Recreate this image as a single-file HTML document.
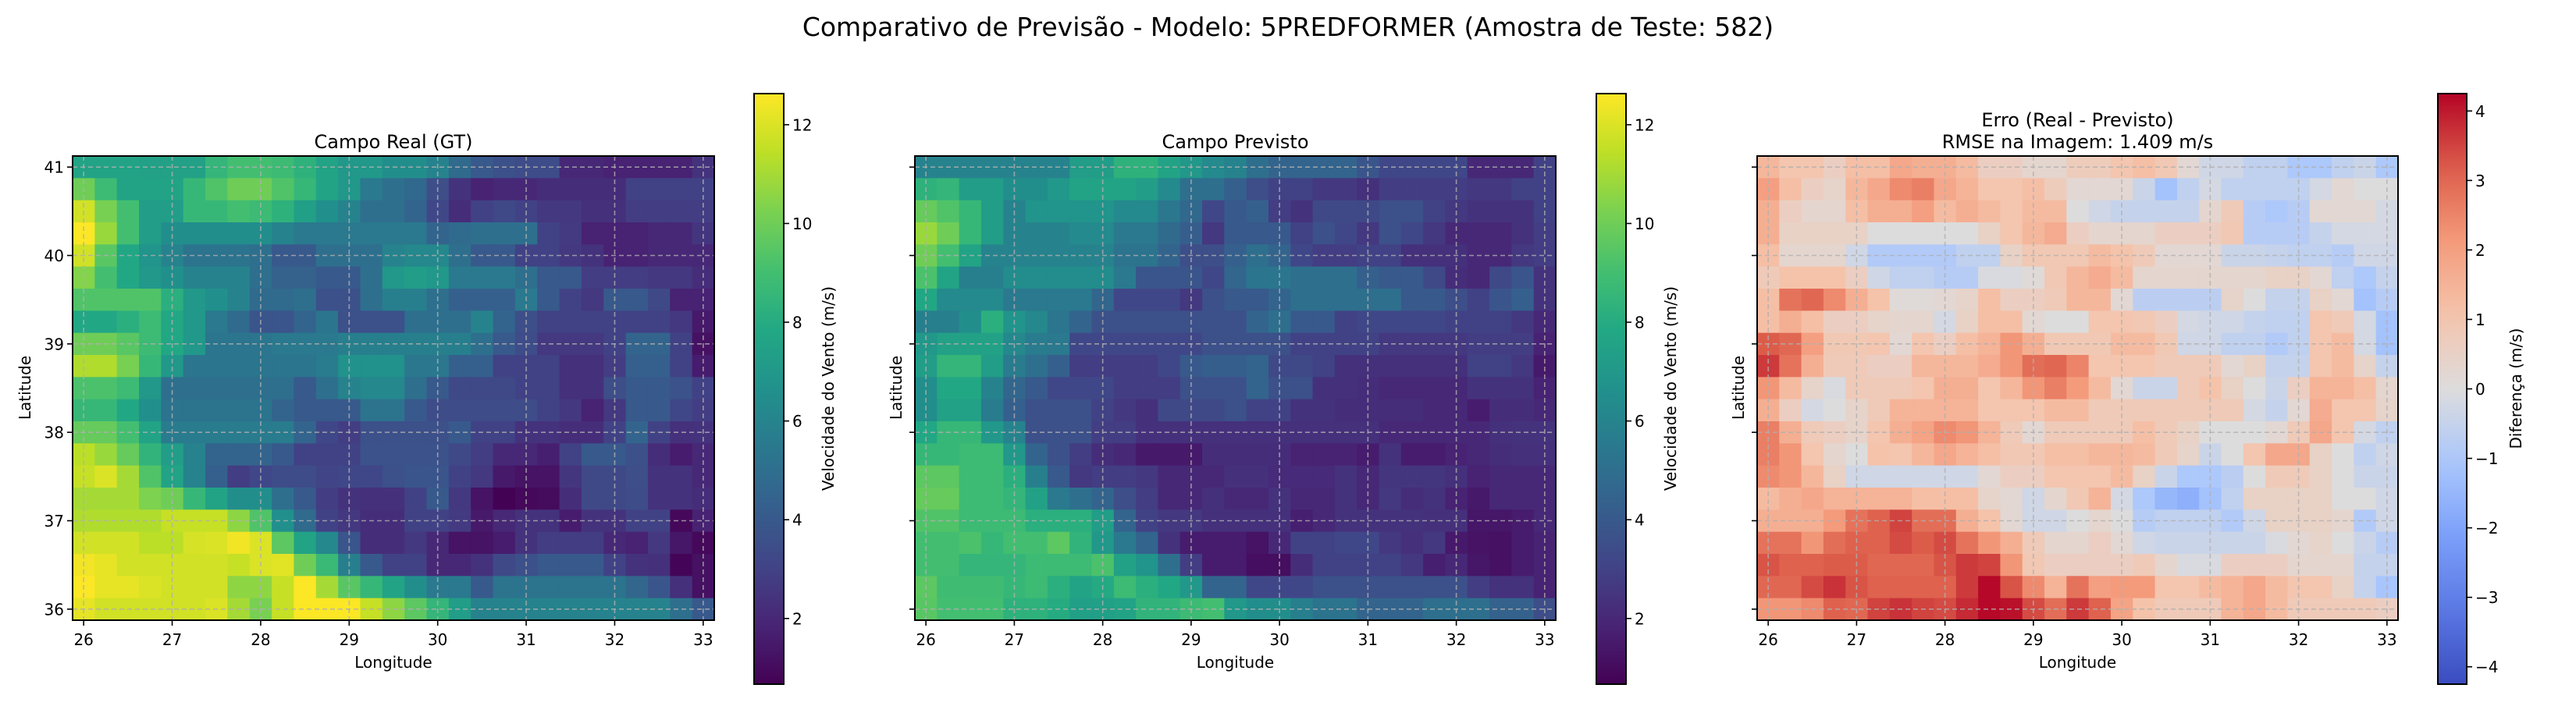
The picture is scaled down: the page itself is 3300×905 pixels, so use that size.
<!DOCTYPE html>
<html><head><meta charset="utf-8"><style>
html,body{margin:0;padding:0;background:#fff;}
svg text{font-family:"DejaVu Sans","Liberation Sans",sans-serif;fill:#000;}
</style></head><body>
<svg id="chart" xmlns="http://www.w3.org/2000/svg" width="3300" height="900" viewBox="0 0 3300 900">
<rect width="3300" height="900" fill="#fff"/>
<text x="1650" y="46" font-size="33" text-anchor="middle">Comparativo de Previsão - Modelo: 5PREDFORMER (Amostra de Teste: 582)</text>
<g id="root"></g>
</svg>
<script>
const lonTicks=[26,27,28,29,30,31,32,33];
const latTicks=[36,37,38,39,40,41];
const speedTicks=[2,4,6,8,10,12];
const diffTicks=[-4,-3,-2,-1,0,1,2,3,4];
const gtValues=[
[7.6,7.6,7.6,7.5,7.5,7.5,8.5,9,9,8.8,8.3,7.6,7,7,6.5,6.5,6,4.8,4,3.6,3.4,3.4,2,2,1.8,1.8,1.8,1.8,2.4],
[10,8.8,7.6,7.6,7.6,8.6,9.3,10,10,9.3,8.6,7.6,7,5.5,5,4.7,3.5,2.4,1.8,2,2,2.2,2.2,2.2,2.2,3,3,3,3],
[11.8,10.2,9,7.3,7.3,8.6,8.6,9,8.8,8.3,7.4,6.6,6,5,5,4.5,3.2,2.2,3,3.3,3,2.6,2.6,2.3,2.3,2.8,2.8,2.8,2.8],
[12.6,10.8,9,7.3,6.5,6.5,6.5,6.5,6.5,6,5.5,5.5,5.5,5.5,5.5,5.5,4.5,4.8,5,5,5,3,2.7,1.8,1.8,1.8,2,2,2.5],
[11.8,9.5,7.8,6.8,6,5.2,5.2,5.2,5,4,4,5,5,5,6,6.2,6.2,5,4,4,3,3,2.6,2.4,1.8,1.8,2,2,2],
[10.4,9,7.8,7,6.6,6,6,6,5,4.4,4.4,4,4,5,7,7.3,7,5.5,5.5,5.5,5,4,4,2.8,2.8,2.8,2.6,2.6,2.2],
[9.3,9.3,9.3,9.3,8.2,7,6.6,6,4.8,4.8,5,3.6,3.6,5,5.8,5.8,5,4.3,4.3,4.3,5.5,4,3,2.6,4,4,3.3,1.8,1.8],
[7.8,7.8,8.2,8.8,7.8,7,5.5,4.8,3.8,3.8,4.5,5.3,3.6,3.6,3.6,5,5,5,6,4.5,3.5,3,3,3,3,3,3,2.6,1.5],
[10,10,9.5,8.8,7.8,7,5.3,5.3,5.3,5.5,5.5,5.5,5.8,5.8,5.8,5.8,5.8,5.8,5,4,3.4,2.6,2.6,2.6,3,4.5,4.5,3,1.2],
[11.2,11.2,10.2,8.6,7,5.3,5.3,5.3,5.3,5.3,5.3,5.6,6.7,6.7,6.7,5.4,5.4,4.3,4.3,3,3,3,2.3,2.3,2.8,4.3,4.3,3,1.6],
[9.2,9.2,8.8,7,5,5,5,5,5,5,4,5,6,6.2,6.2,5,4,3.3,3.3,3.3,3,3,2.3,2.3,3.5,4,4,3.7,3],
[8.6,8.6,7.8,6.6,5.2,5.2,5.2,5.2,5.2,4.5,4,4,4,5.2,5.2,4,3.4,3.4,3.4,3.4,3.4,3,2.6,1.8,2.6,4,4,3.2,2.8],
[9.8,9.8,9,7.6,5.6,5.6,5.6,5.6,5.6,5.6,4.5,3.2,2.8,3.6,3.6,3.6,3.6,4,3,3,2.4,2.4,2.2,2.2,3,4.5,3,2.3,2.4],
[11.4,10.8,9.8,8.4,7.3,6,4.5,4.5,4.5,4,3,3,3,3.7,3.7,3.7,3.7,3.3,2.8,2,2,1.7,3,4,4,3.6,2.2,1.6,2],
[11.6,12,11,9.3,7.6,6,4.3,2.8,3.2,3.4,3.4,3.1,3.2,3.2,3.6,3.8,3.8,3,2.6,1.5,1.3,1.3,2.5,3.3,3.3,3.5,2.4,2.4,2],
[11,11,11,10.3,10,8.6,7.6,6.5,6.5,5,4,2.8,2.4,2.3,2.3,3,4,2.6,1.3,0.7,0.9,1,2.2,3.3,3.3,3.4,2.4,2.4,2.2],
[11.2,11.2,11.2,11.2,11.6,11.6,11.6,10.6,9.3,6.6,4.8,3,2.6,2.2,2.2,3,3,2.7,1.5,2,2.4,2.4,1.6,2.4,2.4,3,3,0.9,1.8],
[11.8,11.8,11.8,11.4,11.4,11.9,12,12.4,12,9.6,7.6,6.2,3.8,2.2,2.2,2.6,2,1.3,1.3,1.6,2.4,2.8,2.8,2.8,2,1.8,2.6,1.4,0.9],
[12.4,12.2,11.8,11.8,11.8,11.8,11.8,11.6,12,12.1,10,8.7,5.8,4,3,3,2,2,2.4,3.3,3.6,4,4,4,3,2.4,2.3,0.8,1.2],
[12.6,12.2,12.2,12,11.8,11.8,11.8,10.6,10.6,11.6,12.6,11,9.5,8.6,7.6,6.5,5.5,5.5,4,5.2,5.2,5.2,5.2,5.2,5.2,4.6,3.8,2.3,1.2],
[12.2,11.8,11.8,11.8,11.8,11.8,12,11,10.2,11.6,12.6,12.6,12.6,11.6,10.6,9.6,8.5,7.3,6,6,6,6,6,6,6,6,6,5,4]];
const predValues=[
[6,6,6,6,6,6,6,7.3,7.3,8.3,8.3,7.6,7,6.3,6,5,4.5,4.5,4.5,4.5,3.8,3.2,3.2,3.2,3.2,2,2,2,3],
[8.3,8.5,7.3,7.3,6.5,6.5,7,7.6,7.6,7.6,7.3,6.3,5,5,4.3,3.5,3,3,2.6,2.6,2.3,2.8,2.8,2.8,2.8,2.6,2.6,3,3],
[9.8,9.3,8.6,7.3,6,6.8,6.8,6.8,6.8,6.3,6.3,5.4,4.7,3.2,4,4.3,2.8,2.4,3.3,3.3,3.3,3.6,3.6,3,2.6,2.4,2.4,2.4,3],
[10.8,10,8.6,7.3,6,6,6,6.3,6.3,5.5,5.5,4.8,4.2,2.6,4,4,4,3,3.6,3.2,2.6,3.6,3.2,2.6,2,2,2,2.4,2.8],
[10,9,7.6,6,6,6,6,6,6,5.2,5.2,4.5,3.5,3.5,4.3,5,4.5,3.2,2.8,2.8,3,3,2.3,2.3,2.3,2,2,2.6,2.8],
[9.2,7.6,5.8,5.8,6.4,6.4,6.4,6.4,6.4,5.5,3.8,3.8,3.8,3.2,4.6,5.3,5.3,5,5,5,4.3,4,4,3.3,2.2,2,3.3,3.8,2.4],
[7.8,6.3,6.3,6.3,5.5,5.5,5.5,5.5,4.6,3.2,3.2,3.2,2.6,3.6,4,4,4.5,5,5,5,5,5,4,4,3.5,3,3.8,4.3,2.4],
[5.8,5.8,6.5,8.2,6.8,6.2,5.3,4.5,3.6,3.6,3.6,3.6,3.6,3.6,3.6,4.5,5,4,4,3,3.2,3.2,3.2,3.2,3,3,3,2.6,2],
[7,7.5,7.5,7.5,6.2,5.6,5.5,3.2,3.2,3.2,3.2,3.2,3.2,3.6,3.6,3.6,3.6,3,3,3,3,2.6,2.6,2.6,2.6,2.8,2.8,2.8,1.8],
[7.3,8.5,8.5,7.3,5.6,5,4.3,2.8,2.8,2.8,2.8,3.2,4,4.2,4.2,4.5,3.3,3.3,3,2.3,2.3,2.3,2.3,2.3,2.3,3,3,2.6,1.5],
[6.5,7.8,7.8,6,4.6,4,3.2,3.2,3.2,2.8,2.8,2.8,3.6,3.6,3.6,4.5,3.6,3.6,2.3,2.3,2.2,2,2,2,2,2.4,2.4,2.4,1.8],
[6.5,7.5,7.5,5.6,4.3,3.6,3.6,3.6,3,2.6,2.3,3.3,3.3,3.3,3.6,3,3,2.4,2.4,2.2,2.2,2.2,2.2,2,2,1.6,2.2,2.2,2],
[7.8,8.6,8.6,7,6,3.6,3.6,3.6,2.8,2.8,2.3,2.3,2.3,2.3,2.3,2.3,2.3,2.3,2.3,2.3,2.3,2,2,2,2,2,2.3,2.4,2.4],
[8.6,8.6,8.8,8.8,7,4.5,3.6,2.8,2.2,2,1.5,1.5,1.5,2.2,2.2,2.2,2.2,1.8,1.8,1.8,1.6,2.4,1.6,1.6,1.8,2,2.2,2.3,2.3],
[9.6,9.6,8.8,8.8,8.2,5.8,4,2.6,2.8,2.8,2.6,2,2,2,2.3,2.3,2.1,2.1,2.1,2.4,2,2.5,2.5,2.5,2.3,1.8,2,2,2],
[9.8,9.8,8.8,8.8,8.5,7.5,5.5,5,4.5,3.5,2.8,2,2,2.3,2,2,2.4,2,2,2.4,2,2.6,2.2,2.4,1.8,1.5,2,2,2],
[9.3,9.3,8.8,8.8,8.8,8.2,8.2,8.2,7.3,4.5,3,2.6,2.6,2.3,2.3,2.3,2.3,1.7,2,2.4,2.4,2.4,2.4,2.3,2.3,1.4,1.4,1.6,2],
[9,9,9.2,8.6,9,9,9.6,8.4,7,5.5,4.5,2.4,1.6,1.6,1.6,1.3,2,3,3,3.2,3.2,2.6,2.3,2.6,1.5,1.3,1.2,1.6,1.8],
[9,9,8.5,8.5,8.5,8.8,8.8,8.8,9.2,7.5,6.8,5,2.8,1.6,1.6,1.1,1.1,2.2,3,3,3,3,2.6,1.7,2,1.4,1.2,1.6,1.8],
[9.6,8.9,8.9,8.9,8.6,8.8,8.2,7.6,7.9,8.8,8.2,7.8,7,4.5,4.5,3.2,3.2,3.2,3.6,3.6,3.6,3.6,3.6,3.6,3.6,2.8,2.4,2.4,1.8],
[9.5,9,9,9,8.3,8.3,8,7.4,7.4,7.6,8.4,8.4,8.8,9,7,6.5,6.5,5.8,5.2,5.2,4.5,4.5,4.5,5,5,5,4.4,4.4,3.5]];
const errValues=[
[1.4,1,1,0.6,1.2,1.2,1.8,1.6,1.6,1.3,0.6,0.6,0.3,0.3,0.7,0.7,1,1.2,0.9,0.2,-0.3,-0.3,-0.6,-0.6,-1,-1,-0.6,-0.4,-1],
[2,1.2,0.6,0.4,1.4,1.8,2.4,2.6,1.8,1.5,1,1,1.2,0.7,0.2,0.2,0.2,-0.4,-1.2,-0.6,-0.2,-0.6,-0.6,-0.6,-0.6,-0.2,0.2,0,0],
[1.6,0.6,0.3,0.3,1.2,1.6,1.6,2,1.3,1.6,1.3,1,1.3,1.3,0,-0.3,-0.5,-0.5,-0.5,-0.5,0.3,0.8,-0.8,-1,-0.8,0.2,0.2,0.2,-0.2],
[1.6,0.5,0.5,0.5,0.5,0,0,0,0,0,0.5,1,1.4,1.7,0.6,0.3,0.3,0.3,0.6,0.6,0.6,0.9,-0.8,-0.8,-0.8,-0.5,-0.2,-0.2,-0.2],
[1.2,0.3,0.3,0.3,-0.3,-0.9,-0.9,-0.9,-0.9,-0.6,-0.6,0.5,0.9,0.9,0.9,1.3,1.1,0.8,0.2,0.2,0.2,-0.4,-0.4,-0.5,-0.6,-0.6,-0.8,-0.3,-0.3],
[0.8,1.1,1.1,1.1,0.6,-0.3,-0.6,-0.6,-0.8,-0.8,-0.1,-0.1,0.1,0.9,1.4,1.7,1.3,0.3,0.3,0.3,0.3,0.3,0.3,0.5,0.5,0.2,-0.6,-1,-0.5],
[1.2,2.8,3,2.4,1.6,1.1,0.1,0.1,0.2,0.4,1.2,0.6,0.6,0.8,1.4,1.4,0.2,-0.7,-0.7,-0.7,-0.7,0.4,0,-0.5,-0.5,0.5,0.2,-1.2,-0.8],
[1.2,1.6,1.2,0.6,0.6,0.4,0.3,0.3,-0.2,0.5,1.2,1.2,0.2,0,0,1,1,0.9,0.6,-0.2,-0.3,-0.3,-0.5,-0.6,-0.6,1,0.8,-0.2,-1.2],
[3.2,3,2,0.9,0.9,1,0.2,1,0.6,1.2,1.5,2.2,1.6,0.9,0.9,0.9,1.3,1.3,0.9,-0.3,-0.3,-0.6,-0.6,-0.9,-0.6,1,1.3,-0.2,-1.2],
[3.6,2.8,1.6,0.8,0.8,0.6,0.6,1.4,1.4,1.4,1.7,2.2,2.9,3,2.5,1,1,1,0.8,0.8,0.8,0.2,0.5,-0.5,-0.5,1,1.3,0.4,-0.5],
[2.2,1.3,0.4,-0.1,0.8,0.8,0.8,1,1.6,1.6,1,1.4,2.2,2.6,2.1,1.3,0.2,-0.4,-0.4,0.8,1.1,0.5,0,-0.4,0.6,1.5,1.5,1.2,0.3],
[1.6,0.6,-0.2,0,0.4,0.8,1.5,1.5,1.5,1.5,1,1,1,1.3,1.3,0.8,0.8,0.8,0.8,0.8,0.8,0.8,-0.2,-0.5,0.2,1.7,1,1,0.4],
[2.6,1.6,0.8,0.6,0.4,1,1.6,1.9,2.4,2.2,1.5,0.8,0.2,0.8,0.8,0.8,0.8,1.2,0.8,0.5,0,0,0,0.2,0.8,1.8,1,-0.2,-0.6],
[2.6,2.2,1,0.3,0,1.1,1,1.4,1.8,1.5,1.2,0.9,0.9,1.2,1.2,1.4,1.4,1.3,0.8,0.4,-0.4,0,1,1.8,1.8,0.5,0,-0.6,-0.3],
[2.4,2.2,1.4,0.5,-0.3,-0.3,-0.3,-0.3,-0.3,-0.3,0.2,0.6,0.6,1,1,1,1.3,0.5,-0.4,-1,-1,-0.7,0,0.8,0.8,0.5,0,-0.4,-0.4],
[1.3,1.6,1.8,1.5,1.5,1.5,1.5,1.2,1.2,1.2,0.4,0.2,-0.3,0.3,0.9,1.5,-0.2,-1,-1.5,-1.7,-1.2,-0.6,0.5,0.5,0.5,0.5,0,0,-0.3],
[1.6,1.6,1.6,2.1,2.8,3.1,3.5,2.9,2.9,1.6,1.1,0.2,-0.3,-0.3,0,0.3,0,-0.8,-0.6,-0.6,-0.6,-0.9,-0.3,0.5,0.5,0.5,0.3,-0.9,-0.3],
[2.8,2.8,2.2,2.9,3.1,3.1,3.4,3.2,3.4,2.8,2.2,1.6,0.8,0.3,0.3,0.6,0.2,-0.3,-0.4,-0.4,-0.4,-0.4,-0.4,-0.1,0.2,0.4,0,-0.4,-0.8],
[3.3,3.1,3.1,3.2,3.2,3,3,3,3.3,3.6,3.5,2.2,0.9,0.6,0.6,0.6,0.6,0.8,0.3,-0.1,-0.1,0.6,0.6,0.6,0.3,0.3,0.3,-0.5,-0.5],
[3,3,3.4,3.7,3.3,3.1,3.1,3.1,3.1,3.6,4.2,3.3,2.4,1.5,2.8,2,2.1,2.1,1,1,1.3,1.5,1.8,1.3,1,1,0.5,-0.5,-1.1],
[2.2,2.2,2.4,3.1,3,3.5,3.7,3.5,3.4,3.8,4.2,4.1,3.4,2.9,3.6,3.1,1.9,1.1,0.8,0.8,0.8,1.5,1.8,1.3,0.8,0.8,0.8,0.8,0.6]];

const NS='http://www.w3.org/2000/svg';
const root=document.getElementById('root');
function mk(tag,attrs,parent,text){const e=document.createElementNS(NS,tag);for(const k in attrs)e.setAttribute(k,attrs[k]);if(text!==undefined)e.textContent=text;(parent||root).appendChild(e);return e;}
const VIR=['#440154','#482475','#414487','#355f8d','#2a788e','#21918c','#22a884','#44bf70','#7ad151','#bddf26','#fde725'];
const CW=['#3b4cc0','#5a78e4','#7b9ff9','#aac7fd','#dddcdc','#f5c4ac','#f49a7b','#dc5d4a','#b40426'];
function hex(h){return [parseInt(h.slice(1,3),16),parseInt(h.slice(3,5),16),parseInt(h.slice(5,7),16)];}
function cmap(stops,t){t=Math.max(0,Math.min(1,t));const n=stops.length-1;const i=Math.min(n-1,Math.floor(t*n));const f=t*n-i;const a=hex(stops[i]),b=hex(stops[i+1]);return 'rgb('+a.map((v,k)=>Math.round(v+(b[k]-v)*f)).join(',')+')';}

const LON0=25.875,LON1=33.125,LAT0=35.875,LAT1=41.125,Y0=200,H=595;
const panels=[
 {key:'gt',x0:93,w:822,data:gtValues,stops:VIR,vmin:0.67,vmax:12.63,title:['Campo Real (GT)'],ylabels:true,cbx:966,cbw:38,cbTicks:speedTicks,cbLabel:'Velocidade do Vento (m/s)',cbLx:1061},
 {key:'pred',x0:1172,w:821,data:predValues,stops:VIR,vmin:0.67,vmax:12.63,title:['Campo Previsto'],ylabels:false,cbx:2045,cbw:38,cbTicks:speedTicks,cbLabel:'Velocidade do Vento (m/s)',cbLx:2140},
 {key:'error',x0:2251,w:821,data:errValues,stops:CW,vmin:-4.25,vmax:4.25,title:['Erro (Real - Previsto)','RMSE na Imagem: 1.409 m/s'],ylabels:false,cbx:3123,cbw:37,cbTicks:diffTicks,cbLabel:'Diferença (m/s)',cbLx:3223}
];
const CBY0=120,CBY1=877;
panels.forEach((p,pi)=>{
  const g=mk('g',{});
  
  
  const xs=lon=>p.x0+(lon-LON0)/(LON1-LON0)*p.w;
  const ys=lat=>Y0+(LAT1-lat)/(LAT1-LAT0)*H;
  const rows=p.data.length,cols=p.data[0].length;
  const dLon=(LON1-LON0)/cols,dLat=(LAT1-LAT0)/rows;
  const hm=mk('g',{},g);
  
  
  p.data.forEach((row,r)=>row.forEach((v,c)=>{
    const lonA=LON0+c*dLon, latA=LAT1-r*dLat;
    const xa=xs(lonA), xb=xs(lonA+dLon), ya=ys(latA), yb=ys(latA-dLat);
    const rc=mk('rect',{x:xa.toFixed(2),y:ya.toFixed(2),width:(xb-xa+0.6).toFixed(2),height:(yb-ya+0.6).toFixed(2),fill:cmap(p.stops,(v-p.vmin)/(p.vmax-p.vmin))},hm);
    
    
  }));
  lonTicks.forEach(t=>{const l=mk('line',{x1:xs(t),x2:xs(t),y1:Y0,y2:Y0+H,stroke:'#b0b0b0','stroke-width':1.6,'stroke-dasharray':'6,4',opacity:0.8},g);});
  latTicks.forEach(t=>{const l=mk('line',{x1:p.x0,x2:p.x0+p.w,y1:ys(t),y2:ys(t),stroke:'#b0b0b0','stroke-width':1.6,'stroke-dasharray':'6,4',opacity:0.8},g);});
  const fr=mk('rect',{x:p.x0,y:Y0,width:p.w,height:H,fill:'none',stroke:'#000','stroke-width':2},g);
  
  lonTicks.forEach(t=>{
    mk('line',{x1:xs(t),x2:xs(t),y1:Y0+H,y2:Y0+H+7,stroke:'#000','stroke-width':1.6},g);
    const tx=mk('text',{x:xs(t),y:827,'font-size':20,'text-anchor':'middle'},g,String(t));
    
  });
  latTicks.forEach(t=>{
    mk('line',{x1:p.x0-7,x2:p.x0,y1:ys(t),y2:ys(t),stroke:'#000','stroke-width':1.6},g);
    if(p.ylabels){const ty=mk('text',{x:p.x0-11,y:ys(t)+7.5,'font-size':20,'text-anchor':'end'},g,String(t));
      }
  });
  const xl=mk('text',{x:p.x0+p.w/2,y:856,'font-size':20,'text-anchor':'middle'},g,'Longitude');
  
  const ylx=p.ylabels?32:p.x0-24;
  const yl=mk('text',{x:ylx,y:497,'font-size':20,'text-anchor':'middle',transform:'rotate(-90 '+ylx+' 497)',dy:'0.35em'},g,'Latitude');
  
  p.title.forEach((s,i)=>{
    const ty=p.title.length===1?190:(i===0?162:190);
    const t=mk('text',{x:p.x0+p.w/2,y:ty,'font-size':24,'text-anchor':'middle'},g,s);
    
  });
  const gid='grad'+pi;
  const defs=mk('defs',{},g);
  const lg=mk('linearGradient',{id:gid,x1:0,y1:1,x2:0,y2:0},defs);
  for(let i=0;i<=20;i++){mk('stop',{offset:(i/20),'stop-color':cmap(p.stops,i/20)},lg);}
  const cb=mk('rect',{x:p.cbx,y:CBY0,width:p.cbw,height:CBY1-CBY0,fill:'url(#'+gid+')',stroke:'#000','stroke-width':2},g);
  
  const cy=v=>CBY1-(v-p.vmin)/(p.vmax-p.vmin)*(CBY1-CBY0);
  p.cbTicks.forEach(t=>{
    mk('line',{x1:p.cbx+p.cbw,x2:p.cbx+p.cbw+7,y1:cy(t),y2:cy(t),stroke:'#000','stroke-width':1.6},g);
    const lab=t<0?'\u2212'+Math.abs(t):String(t);
    const tt=mk('text',{x:p.cbx+p.cbw+11,y:cy(t)+7.5,'font-size':20},g,lab);
    
  });
  const cl=mk('text',{x:p.cbLx,y:498,'font-size':20,'text-anchor':'middle',transform:'rotate(-90 '+p.cbLx+' 498)',dy:'0.35em'},g,p.cbLabel);
  
});
</script>
</body></html>
